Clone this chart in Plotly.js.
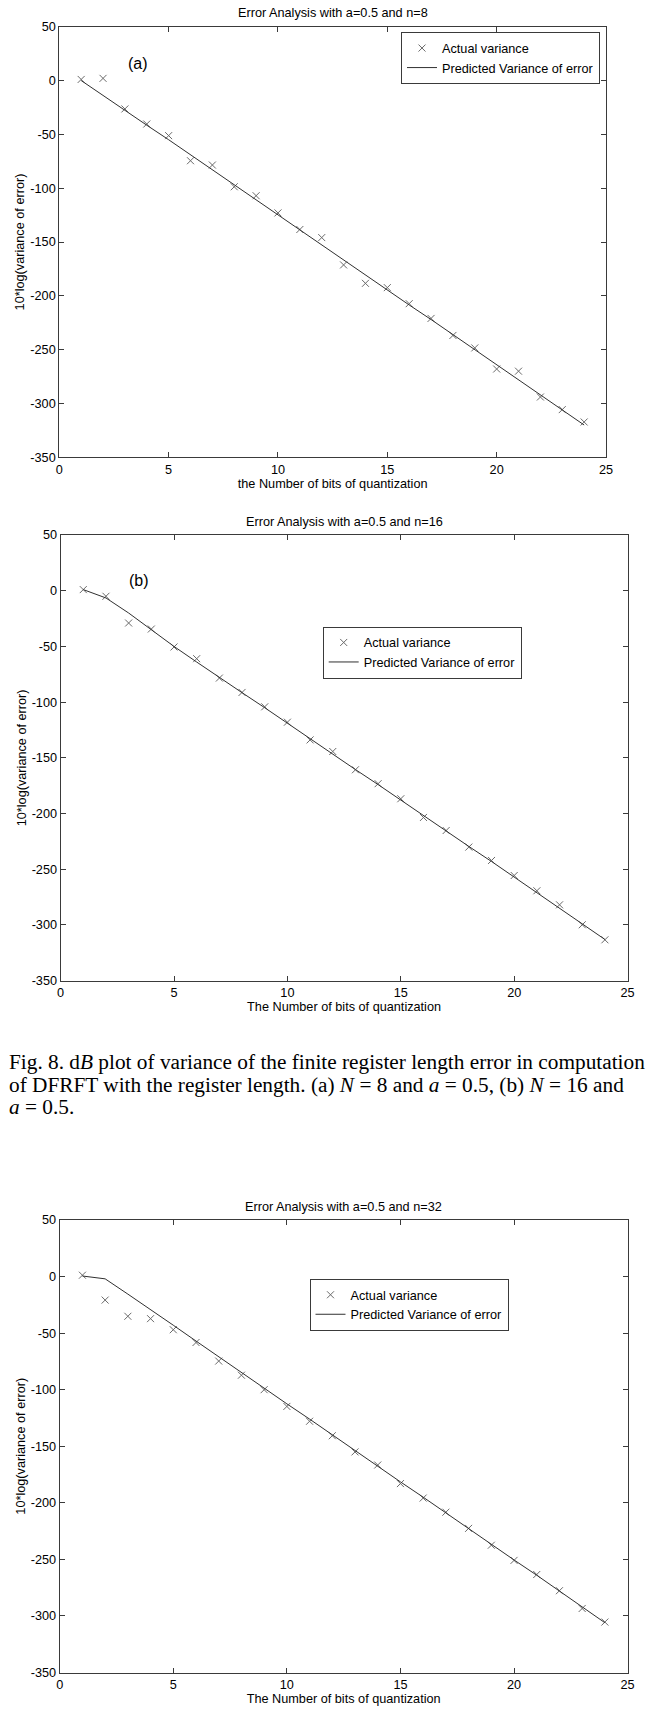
<!DOCTYPE html>
<html>
<head>
<meta charset="utf-8">
<script src="https://cdn.plot.ly/plotly-3.0.1.min.js"></script>
<style>
  html, body { margin: 0; padding: 0; background: #ffffff; }
  #chart { width: 646px; height: 1711px; }
</style>
</head>
<body>
<div id="chart"></div>
<script>
// ---- data ----
const bits = [1, 2, 3, 4, 5, 6, 7, 8, 9, 10, 11, 12, 13, 14, 15, 16, 17, 18, 19, 20, 21, 22, 23, 24];

const actualN8 = [1, 2, -26.4, -40.4, -51.2, -74.5, -78.5, -98.7, -107, -123, -138.4, -145.9,
                  -171.3, -188.4, -192.4, -207.3, -221, -236.8, -248.4, -268, -270, -294, -305.7, -317.2];
const predictedN8 = [0, -14, -27.5, -41.5, -55, -69, -83, -97, -111, -125, -139, -153,
                     -167, -180.5, -194.5, -208.5, -222, -236, -250, -264, -278, -292, -306, -320];

const actualN16 = [1, -5, -29, -34.4, -50.5, -61, -78.4, -91.3, -104.2, -118, -133.9, -144.3,
                   -160.7, -173.2, -186.7, -203.5, -215.2, -230.1, -242.1, -255.6, -269.3, -281.9, -299.8, -313.3];
const predictedN16 = [1, -6.5, -20, -35, -50, -64, -78, -91.5, -105, -119, -133, -146.5,
                      -160.5, -174, -188, -202, -215.5, -229.5, -243, -257, -271, -285, -299, -313];

const actualN32 = [1.2, -20.8, -35.1, -37.2, -47, -58.3, -74.7, -87.2, -100, -114.8, -127.9, -140.7,
                   -155, -166.6, -183, -195.8, -208.3, -222.6, -237.5, -250.9, -263.4, -277.7, -293.4, -305.4];
const predictedN32 = [0.5, -2, -15.5, -29, -43, -57, -71, -85, -98.5, -112.5, -126, -140,
                      -154, -167.5, -181.5, -195, -209, -223, -236.5, -250.5, -264, -278, -292, -306];

const plotTitles = ["Error Analysis with a=0.5 and n=8", "Error Analysis with a=0.5 and n=16", "Error Analysis with a=0.5 and n=32"];
const xTitles = ["the Number of bits of quantization", "The Number of bits of quantization", "The Number of bits of quantization"];
const yTitle = "10*log(variance of error)";
const seriesNames = ["Actual variance", "Predicted Variance of error"];
const panelLabels = ["(a)", "(b)"];
const xTickVals = [0, 5, 10, 15, 20, 25];
const yTickVals = [-350, -300, -250, -200, -150, -100, -50, 0, 50];
const yTickText = ["-350", "-300", "-250", "-200", "-150", "-100", "-50", "0", "50"];
const captionLines = [
  "Fig. 8. d<i>B</i> plot of variance of the finite register length error in computation",
  "of DFRFT with the register length. (a) <i>N</i> = 8 and <i>a</i> = 0.5, (b) <i>N</i> = 16 and",
  "<i>a</i> = 0.5."
];

// ---- styling / layout ----
const W = 646, H = 1711;
const px = v => v / W;
const py = v => 1 - v / H;

const FONT = "Liberation Sans, Arial, sans-serif";
const FS = 12.7;
const axisColor = "#3a3a3a";
const markerColor = "#6a6a6a";
const lineColor = "#303030";

const panels = [
  { act: actualN8,  pred: predictedN8,  xd: [59.3, 606],   yd: [26.7, 457.3],  legend: [401, 32.3],   title: 13.3 },
  { act: actualN16, pred: predictedN16, xd: [60.6, 627.6], yd: [535, 980.7],   legend: [322.7, 626.7], title: 521.6 },
  { act: actualN32, pred: predictedN32, xd: [59.7, 627.6], yd: [1220, 1672.5], legend: [309.5, 1279], title: 1206.6 }
];

const traces = [];
const layout = {
  width: W, height: H,
  margin: { l: 0, r: 0, t: 0, b: 0, pad: 0 },
  paper_bgcolor: "#ffffff",
  plot_bgcolor: "#ffffff",
  font: { family: FONT, size: FS, color: "#000000" },
  annotations: [],
  showlegend: true
};

panels.forEach((p, i) => {
  const n = i === 0 ? "" : String(i + 1);
  const xa = "x" + n, ya = "y" + n;
  const lg = "legend" + n;
  traces.push({
    x: bits, y: p.act, type: "scatter", mode: "markers", name: seriesNames[0],
    xaxis: xa, yaxis: ya, legend: lg,
    marker: { symbol: "x-thin-open", size: 7, color: markerColor, line: { color: markerColor, width: 1 } }
  });
  traces.push({
    x: bits, y: p.pred, type: "scatter", mode: "lines", name: seriesNames[1],
    xaxis: xa, yaxis: ya, legend: lg,
    line: { color: lineColor, width: 1 }
  });

  const common = {
    showgrid: false, zeroline: false, showline: true, mirror: "allticks",
    linecolor: axisColor, linewidth: 1, ticks: "inside", ticklen: 5,
    tickcolor: axisColor, tickwidth: 1,
    tickfont: { family: FONT, size: FS, color: "#000000" }
  };
  layout["xaxis" + n] = Object.assign({}, common, {
    domain: [px(p.xd[0]), px(p.xd[1])], anchor: ya,
    range: [0, 25], tickmode: "array", tickvals: xTickVals,
    title: { text: xTitles[i], font: { family: FONT, size: FS, color: "#000000" }, standoff: 3 }
  });
  layout["yaxis" + n] = Object.assign({}, common, {
    domain: [py(p.yd[1]), py(p.yd[0])], anchor: xa,
    range: [-350, 50], tickmode: "array", tickvals: yTickVals, ticktext: yTickText,
    title: { text: yTitle, font: { family: FONT, size: FS, color: "#000000" }, standoff: 2 }
  });
  layout[lg] = {
    x: px(p.legend[0]), y: py(p.legend[1]), xref: "paper", yref: "paper",
    xanchor: "left", yanchor: "top",
    bgcolor: "#ffffff", bordercolor: axisColor, borderwidth: 1,
    font: { family: FONT, size: FS, color: "#000000" },
    itemwidth: 30, tracegroupgap: 0
  };
  layout.annotations.push({
    text: plotTitles[i], xref: "paper", yref: "paper",
    x: px((p.xd[0] + p.xd[1]) / 2), y: py(p.title),
    xanchor: "center", yanchor: "middle", showarrow: false,
    font: { family: FONT, size: FS, color: "#000000" }
  });
});

// panel labels (a), (b)
layout.annotations.push({ text: panelLabels[0], xref: "paper", yref: "paper", x: px(138), y: py(63.3),
  xanchor: "center", yanchor: "middle", showarrow: false, font: { family: FONT, size: 16, color: "#000000" } });
layout.annotations.push({ text: panelLabels[1], xref: "paper", yref: "paper", x: px(139.3), y: py(580),
  xanchor: "center", yanchor: "middle", showarrow: false, font: { family: FONT, size: 16, color: "#000000" } });

// caption
const capY = [1062, 1084.5, 1106.5];
captionLines.forEach((t, k) => {
  layout.annotations.push({
    text: t, xref: "paper", yref: "paper", x: px(7), y: py(capY[k]),
    xanchor: "left", yanchor: "middle", align: "left", showarrow: false,
    font: { family: "Liberation Serif, Times New Roman, serif", size: 21.3, color: "#000000" }
  });
});

Plotly.newPlot("chart", traces, layout, { displayModeBar: false, staticPlot: true });
</script>
</body>
</html>
